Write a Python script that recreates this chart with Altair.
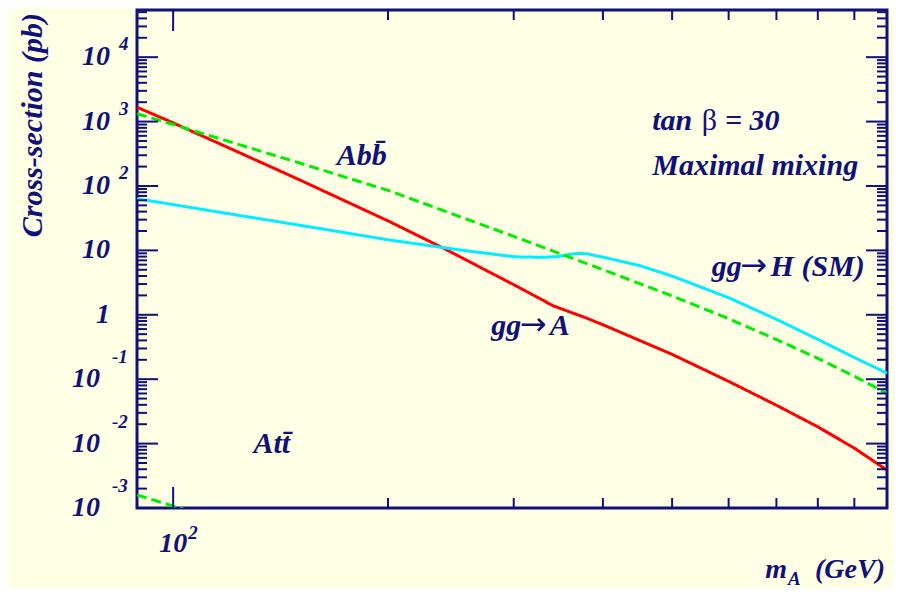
import altair as alt
import pandas as pd

# ---------------- data ----------------
ggA_mass = [89, 100, 120, 150, 200, 240, 300, 330, 340, 360, 380, 400, 500, 600, 700, 800, 900, 1000]
ggA_xsec = [1670, 955, 385, 126, 28.7, 10.6, 2.93, 1.67, 1.39, 1.10, 0.883, 0.70, 0.243, 0.0925, 0.0394, 0.0182, 0.0085, 0.00387]

ggH_mass = [89, 100, 120, 150, 200, 250, 300, 330, 345, 360, 372, 380, 400, 450, 500, 600, 700, 800, 900, 1000]
ggH_xsec = [63.4, 51.4, 36.9, 24.7, 14.6, 10.3, 7.96, 7.8, 8.0, 8.7, 8.97, 8.85, 7.85, 5.82, 3.99, 1.84, 0.851, 0.415, 0.217, 0.124]

Abb_mass = [89, 100, 150, 200, 300, 400, 500, 600, 700, 800, 900, 1000]
Abb_xsec = [1330, 900, 229, 85.5, 16.5, 5.02, 1.96, 0.871, 0.413, 0.211, 0.111, 0.060]

Att_mass = [89, 100, 110, 120]
Att_xsec = [0.0016, 0.00107, 0.00078, 0.0006]

series_names = ["ggA", "ggH", "Abb", "Att"]
series_colors = ["#ff0000", "#00eeff", "#00ee00", "#00ee00"]
series_dash = [[1, 0], [1, 0], [10, 5], [10, 5]]

y_major = [1e-3, 1e-2, 1e-1, 1, 10, 100, 1e3, 1e4]
y_minor = [k * 10.0 ** n for n in range(-3, 5) for k in range(2, 10) if k * 10.0 ** n < 5.4e4]
x_major = [100]
x_minor = [200, 300, 400, 500, 600, 700, 800, 900]

ypos_vals = [1, 10, 100, 1000, 10000]
ypos_text = ["1", "10", "10", "10", "10"]
ypos_exp_vals = [100, 1000, 10000]
ypos_exp_text = ["2", "3", "4"]
yneg_vals = [0.1, 0.01, 0.001]
yneg_text = ["10", "10", "10"]
yneg_exp_text = ["-1", "-2", "-3"]

# ---------------- styling ----------------
NAVY = "#10107a"
BG = "#ffffe6"
FONT = "Liberation Serif"
ARROW_FONT = "DejaVu Sans"
W, H = 750, 498

xscale = alt.Scale(type="log", domain=[89, 1000], nice=False, zero=False)
yscale = alt.Scale(type="log", domain=[1e-3, 5.4e4], nice=False, zero=False)

frames = []
for name, m, s in [("ggA", ggA_mass, ggA_xsec), ("ggH", ggH_mass, ggH_xsec),
                   ("Abb", Abb_mass, Abb_xsec), ("Att", Att_mass, Att_xsec)]:
    frames.append(pd.DataFrame({"mass": m, "xsec": s, "series": name}))
df = pd.concat(frames, ignore_index=True)

lines = alt.Chart(df).mark_line(clip=True, strokeWidth=3).encode(
    x=alt.X("mass:Q", scale=xscale, axis=None),
    y=alt.Y("xsec:Q", scale=yscale, axis=None),
    color=alt.Color("series:N", scale=alt.Scale(domain=series_names, range=series_colors), legend=None),
    strokeDash=alt.StrokeDash("series:N", scale=alt.Scale(domain=series_names, range=series_dash), legend=None),
    detail="series:N",
)

def yticks(vals, x0, x1):
    return alt.Chart(pd.DataFrame({"v": vals})).mark_rule(color=NAVY, strokeWidth=2).encode(
        y=alt.Y("v:Q", scale=yscale, axis=None), x=alt.value(x0), x2=alt.value(x1))

def xticks(vals, y0, y1):
    return alt.Chart(pd.DataFrame({"v": vals})).mark_rule(color=NAVY, strokeWidth=2).encode(
        x=alt.X("v:Q", scale=xscale, axis=None), y=alt.value(y0), y2=alt.value(y1))

ticks = [
    yticks(y_major, 0, 21), yticks(y_minor, 0, 10),
    yticks(y_major, W, W - 21), yticks(y_minor, W, W - 10),
    xticks(x_major, H, H - 21), xticks(x_minor, H, H - 10),
    xticks(x_major, 0, 21), xticks(x_minor, 0, 10),
]

txt = dict(font=FONT, fontStyle="italic", fontWeight="bold", color=NAVY)

def ylabels(vals, texts, xpix, align, size, dy=0):
    return alt.Chart(pd.DataFrame({"v": vals, "t": texts})).mark_text(
        align=align, baseline="middle", fontSize=size, dy=dy, **txt).encode(
        y=alt.Y("v:Q", scale=yscale, axis=None), x=alt.value(xpix), text="t:N")

labels = [
    ylabels(ypos_vals, ypos_text, -27, "right", 28),
    ylabels(ypos_exp_vals, ypos_exp_text, -18, "left", 19, dy=-13),
    ylabels(yneg_vals, yneg_text, -37, "right", 28),
    ylabels(yneg_vals, yneg_exp_text, -25, "left", 19, dy=-22),
]

xlab_df = pd.DataFrame({"v": x_major, "t": ["10"], "e": ["2"]})
labels.append(alt.Chart(xlab_df).mark_text(align="center", baseline="middle", fontSize=28, **txt).encode(
    x=alt.X("v:Q", scale=xscale, axis=None), y=alt.value(534), text="t:N"))
labels.append(alt.Chart(xlab_df).mark_text(align="left", baseline="middle", fontSize=19, dx=15, **txt).encode(
    x=alt.X("v:Q", scale=xscale, axis=None), y=alt.value(523), text="e:N"))

# axis titles
def fixed_text(text, xpix, ypix, size=28, align="left", baseline="alphabetic", **kw):
    style = dict(txt)
    style.update(kw)
    return alt.Chart(xlab_df).mark_text(align=align, baseline=baseline, fontSize=size, **style).encode(
        x=alt.value(xpix), y=alt.value(ypix), text=alt.value(text))

titles = [
    fixed_text("Cross-section (pb)", -104, 3, size=30, align="right", baseline="middle", angle=270),
    fixed_text("m", 650, 568, size=28, align="right"),
    fixed_text("A", 651, 575, size=19),
    fixed_text("(GeV)", 748, 568, size=28, align="right"),
]

def annot(xv, yv, text, size=30, **kw):
    style = dict(txt)
    style.update(kw)
    return alt.Chart(xlab_df).mark_text(align="left", baseline="alphabetic", fontSize=size, **style).encode(
        x=alt.X(datum=xv, scale=xscale, axis=None),
        y=alt.Y(datum=yv, scale=yscale, axis=None), text=alt.value(text))

arrow = dict(font=ARROW_FONT, fontStyle="normal", fontWeight="normal")
annots = [
    annot(169.5, 211, "Abb\u0304"),
    annot(279, 0.494, "gg"),
    annot(306, 0.494, "\u2192", size=32, **arrow),
    annot(337, 0.494, "A"),
    annot(568, 4.05, "gg"),
    annot(623, 4.05, "\u2192", size=32, **arrow),
    annot(687, 4.05, "H (SM)"),
    annot(129.6, 0.00718, "Att\u0304"),
    annot(469, 736, "tan"),
    annot(550, 736, "\u03b2", fontStyle="normal", fontWeight="normal"),
    annot(593, 736, "= 30"),
    annot(469, 148, "Maximal mixing"),
]

chart = alt.layer(lines, *ticks, *labels, *titles, *annots).properties(
    width=W, height=H,
    autosize=alt.AutoSizeParams(type="none"),
    padding={"left": 129, "top": 2, "right": 6, "bottom": 80},
    background=BG,
).configure_view(stroke=NAVY, strokeWidth=3, fill=BG)

chart.save("out.html", embed_options={"renderer": "svg", "actions": False})
